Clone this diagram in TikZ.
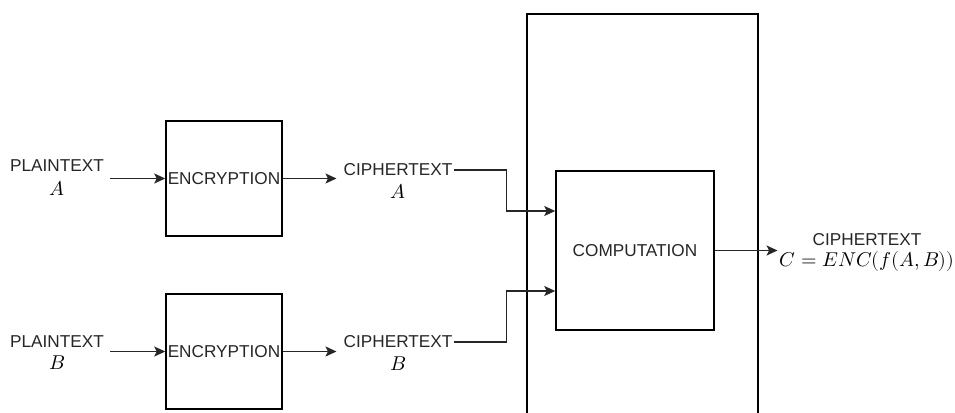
\documentclass[tikz,border=0pt]{standalone}
\usepackage{fontspec}
\usepackage{unicode-math}
\setmainfont{Liberation Sans}
\setmathfont{Latin Modern Math}
\usetikzlibrary{arrows.meta,calc}
\begin{document}
\begin{tikzpicture}[x=1pt,y=-1pt,
  every node/.style={font=\fontsize{17.2}{21}\selectfont, text=black!85},
  boxn/.style={draw=black, line width=1.5pt, inner sep=0pt, minimum width=116pt, minimum height=115pt},
  mth/.style={font=\fontsize{20}{22}\selectfont, text=black},
  arr/.style={draw=black!85, line width=1.5pt, -{Stealth[length=11pt,width=10pt,inset=2.5pt]}}]
\clip (0,0) rectangle (955,412);
% outer tall box (open at bottom)
\node[draw=black, line width=1.6pt, inner sep=0pt, minimum width=231pt, minimum height=480pt, anchor=north west] (outer) at (526,13) {};
% encryption boxes
\node[boxn] (encA) at (224,178.5) {ENCRYPTION};
\node[boxn] (encB) at (224,351.5) {ENCRYPTION};
% computation box
\node[draw=black, line width=1.5pt, inner sep=0pt, minimum width=158pt, minimum height=159pt, fill=white] (comp) at (635,250.5) {COMPUTATION};
% plaintext labels
\node[inner sep=1pt] (pa) at (57,166) {PLAINTEXT};
\node[mth, inner sep=1pt] (pa2) at (57,188) {$A$};
\node[inner sep=1pt] (pb) at (57,342) {PLAINTEXT};
\node[mth, inner sep=1pt] (pb2) at (57,363) {$B$};
% ciphertext labels
\node[inner sep=1pt] (ca1) at (398,170) {CIPHERTEXT};
\node[mth, inner sep=1pt] (ca2) at (398,191) {$A$};
\node[inner sep=1pt] (cb1) at (398,342) {CIPHERTEXT};
\node[mth, inner sep=1pt] (cb2) at (398,364) {$B$};
% output
\node[inner sep=1pt] (out1) at (867,240) {CIPHERTEXT};
\node[mth, inner sep=1pt] (out2) at (867,261) {$C = ENC(f(A,B))$};
\coordinate (outin) at ($(out2.west)+(-1,-10)$);
% connectors
\draw[arr] ($(pa.east |- encA.west)+(5,0)$) -- (encA.west);
\draw[arr] ($(pb.east |- encB.west)+(5,0)$) -- (encB.west);
\draw[arr] (encA.east) -- ($(ca1.west |- encA.east)+(-6,0)$);
\draw[arr] (encB.east) -- ($(cb1.west |- encB.east)+(-6,0)$);
\draw[arr] (ca1.east) -- ++(53,0) |- ([yshift=39.5pt]comp.west);
\draw[arr] (cb1.east) -- ++(53,0) |- ([yshift=-40.5pt]comp.west);
\draw[arr] (comp.east) -- (comp.east -| outin);
\end{tikzpicture}
\end{document}
